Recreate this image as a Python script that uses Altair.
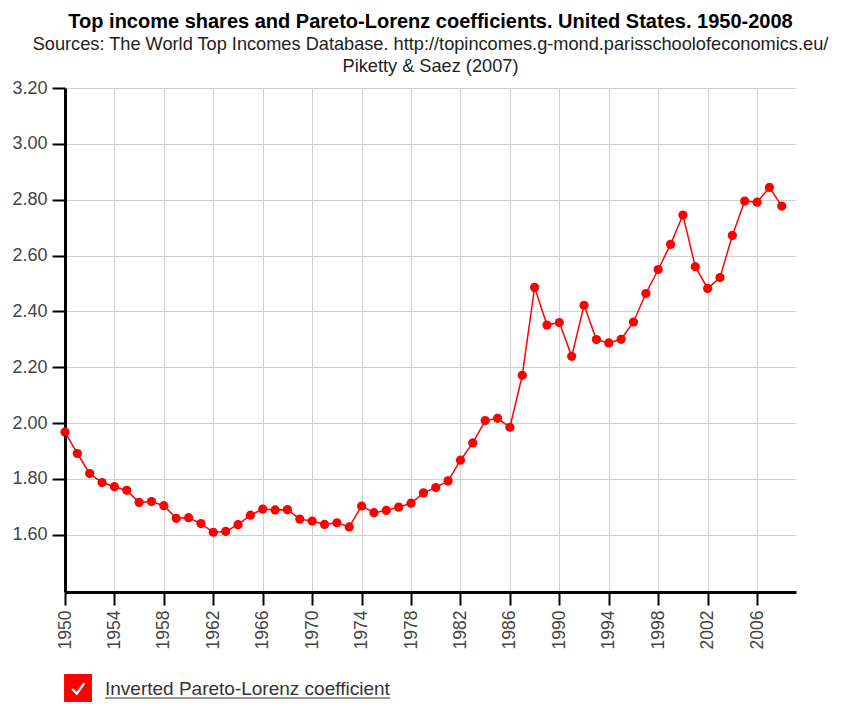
import altair as alt
import pandas as pd

years = list(range(1950, 2009))
values = [1.968, 1.891, 1.819, 1.787, 1.772, 1.759, 1.716, 1.719, 1.704, 1.659,
          1.661, 1.640, 1.609, 1.612, 1.636, 1.670, 1.692, 1.689, 1.690, 1.656,
          1.649, 1.637, 1.643, 1.628, 1.703, 1.679, 1.687, 1.699, 1.713, 1.750,
          1.769, 1.793, 1.867, 1.929, 2.009, 2.017, 1.985, 2.171, 2.486, 2.351,
          2.360, 2.239, 2.422, 2.299, 2.287, 2.300, 2.362, 2.464, 2.550, 2.640,
          2.745, 2.560, 2.482, 2.521, 2.672, 2.795, 2.791, 2.844, 2.777]
x_ticks = list(range(1950, 2009, 4))
y_ticks = [1.6, 1.8, 2.0, 2.2, 2.4, 2.6, 2.8, 3.0, 3.2]
series_name = "Inverted Pareto-Lorenz coefficient"
title_text = "Top income shares and Pareto-Lorenz coefficients. United States. 1950-2008"
subtitle_lines = ["Sources: The World Top Incomes Database. http://topincomes.g-mond.parisschoolofeconomics.eu/",
                  "Piketty & Saez (2007)"]

df = pd.DataFrame({"year": years, "value": values})

FONT = "Liberation Sans"
RED = "#ff0000"

x_enc = alt.X("year:Q",
              scale=alt.Scale(domain=[1950, 2009.15], nice=False, zero=False),
              axis=alt.Axis(values=x_ticks, format="d", title=None, labelAngle=270,
                            labelAlign="right", labelBaseline="middle",
                            labelFontSize=17.5, labelColor="#444", labelFont=FONT,
                            labelPadding=5, tickSize=13, tickWidth=2, tickColor="#000",
                            domainColor="#000", domainWidth=3,
                            gridColor="#d0d0d0", gridWidth=1))
y_enc = alt.Y("value:Q",
              scale=alt.Scale(domain=[1.395, 3.2], nice=False, zero=False),
              axis=alt.Axis(values=y_ticks, format=".2f", title=None,
                            labelFontSize=18, labelColor="#444", labelFont=FONT,
                            labelPadding=5, tickSize=13, tickWidth=2, tickColor="#000",
                            domainColor="#000", domainWidth=3,
                            gridColor="#d0d0d0", gridWidth=1))

base = alt.Chart(df)
line = base.mark_line(color=RED, strokeWidth=1.5).encode(x=x_enc, y=y_enc)
pts = base.mark_circle(color=RED, size=85, opacity=1).encode(x="year:Q", y="value:Q")

leg_df = pd.DataFrame({"label": [series_name]})
leg = alt.Chart(leg_df)
box = leg.mark_square(color=RED, size=780, opacity=1, cornerRadius=3).encode(
    x=alt.value(13), y=alt.value(600))
check = leg.mark_point(shape="M-0.55,0.0L-0.12,0.45L0.6,-0.55", filled=False,
                       stroke="white", strokeWidth=2.2, size=440, opacity=1).encode(
    x=alt.value(13), y=alt.value(601))
label = leg.mark_text(align="left", baseline="middle", font=FONT, fontSize=19,
                      color="#333").encode(x=alt.value(40), y=alt.value(601), text="label:N")
underline = leg.mark_rule(color="#333", strokeWidth=1.2).encode(
    x=alt.value(40), x2=alt.value(325), y=alt.value(610))

chart = alt.layer(line, pts, box, check, label, underline).properties(
    width=731, height=504,
    title=alt.TitleParams(text=title_text, subtitle=subtitle_lines, anchor="middle",
                          font=FONT, fontSize=20, fontWeight="bold", color="#000",
                          subtitleFont=FONT, subtitleFontSize=18.2, subtitleColor="#222",
                          subtitlePadding=4, subtitleLineHeight=22, offset=4),
    autosize=alt.AutoSizeParams(type="none"),
    padding={"left": 57, "top": 80, "right": 38, "bottom": 112},
).configure_view(stroke=None)

chart.save("out.html", embed_options={"renderer": "svg", "actions": False})
